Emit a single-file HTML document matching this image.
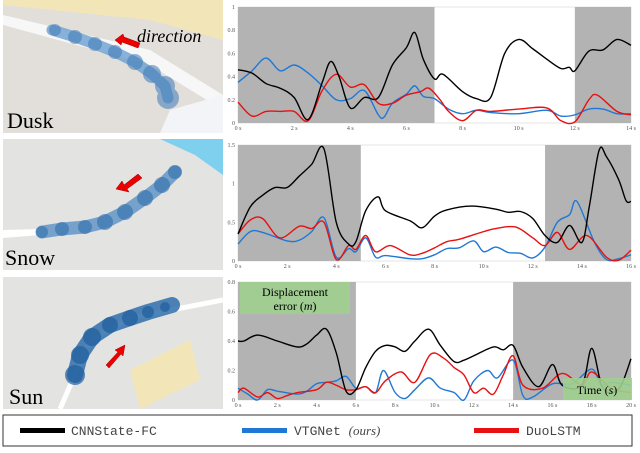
<!DOCTYPE html>
<html><head><meta charset="utf-8"><style>
body{margin:0;width:640px;height:448px;overflow:hidden;background:#fff;font-family:"Liberation Serif",serif}
</style></head><body>
<svg id="s" width="640" height="448" xmlns="http://www.w3.org/2000/svg">
<defs><clipPath id="c1"><rect x="3" y="0" width="220" height="133"/></clipPath>
<clipPath id="c2"><rect x="3" y="139" width="220" height="131"/></clipPath>
<clipPath id="c3"><rect x="3" y="277" width="220" height="132"/></clipPath></defs>
<g clip-path="url(#c1)">
<rect x="3" y="0" width="220" height="133" fill="#e2dfda"/>
<polygon points="3,0 223,0 223,40 150,20 3,5" fill="#f2e6b8"/>
<polygon points="3,15 3,25 150,65 223,110 223,95 150,50" fill="#f7f7f7"/>
<polygon points="170,110 223,95 223,133 160,133" fill="#f2f4f7"/>
<polyline points="52,30 75,37 95,44 115,52 135,62 152,74 165,86 168,98" fill="none" stroke="#6a9fd0" stroke-width="11" stroke-linecap="round" stroke-linejoin="round" opacity="0.8"/>
<g fill="#3f7bb8" opacity="0.55"><circle cx="55" cy="30" r="6"/><circle cx="75" cy="37" r="7"/><circle cx="95" cy="44" r="7"/><circle cx="115" cy="52" r="7"/><circle cx="135" cy="62" r="8"/><circle cx="152" cy="74" r="9"/><circle cx="165" cy="86" r="10"/><circle cx="168" cy="98" r="11"/></g>
<polygon points="115,40 123,34 124,37 140,43 138,48 122,42 121,45" fill="#e00" stroke="#900" stroke-width="0.5"/>
<text x="137" y="42" font-size="18" font-style="italic">direction</text>
<text x="7" y="128" font-size="22">Dusk</text></g>
<g clip-path="url(#c2)">
<rect x="3" y="139" width="220" height="131" fill="#e3e3e1"/>
<polygon points="160,139 223,139 223,175 195,155" fill="#7fd0ee"/>
<polygon points="3,230 3,238 40,235 40,229" fill="#fff"/>
<polyline points="42,232 62,229 85,227 105,222 125,212 145,198 162,185 175,172" fill="none" stroke="#5a90c6" stroke-width="13" stroke-linecap="round" stroke-linejoin="round" opacity="0.8"/>
<g fill="#2f6eaa" opacity="0.6"><circle cx="42" cy="232" r="6"/><circle cx="62" cy="229" r="7"/><circle cx="85" cy="227" r="7"/><circle cx="105" cy="222" r="8"/><circle cx="125" cy="212" r="8"/><circle cx="145" cy="198" r="8"/><circle cx="162" cy="185" r="8"/><circle cx="175" cy="172" r="7"/></g>
<polygon points="116,189 122,181 124,185 138,174 142,178 127,189 129,192" fill="#e00" stroke="#900" stroke-width="0.5"/>
<text x="5" y="265" font-size="22">Snow</text></g>
<g clip-path="url(#c3)">
<rect x="3" y="277" width="220" height="132" fill="#e3e3e1"/>
<polygon points="130,370 190,340 200,380 140,409" fill="#f2e6b8"/>
<polyline points="60,409 90,340 130,318 223,300" fill="none" stroke="#fff" stroke-width="5"/>
<polyline points="75,375 80,355 92,337 110,325 130,318 148,312 172,305" fill="none" stroke="#2f6eaa" stroke-width="16" stroke-linecap="round" stroke-linejoin="round" opacity="0.85"/>
<g fill="#1e5e9e" opacity="0.7"><circle cx="75" cy="375" r="10"/><circle cx="80" cy="355" r="9"/><circle cx="92" cy="337" r="9"/><circle cx="110" cy="325" r="8"/><circle cx="130" cy="318" r="8"/><circle cx="148" cy="312" r="6"/><circle cx="165" cy="307" r="5"/></g>
<polygon points="106,365 118,352 115,350 125,345 123,356 121,354 109,368" fill="#e00" stroke="#900" stroke-width="0.5"/>
<text x="9" y="404" font-size="22">Sun</text></g>
<g id="charts"></g>
<rect x="240" y="282" width="110" height="32" fill="#9fcf8f" opacity="0.9"/>
<text x="295" y="296" font-size="12" text-anchor="middle">Displacement</text>
<text x="295" y="310" font-size="12" text-anchor="middle">error (<tspan font-style="italic">m</tspan>)</text>
<rect x="563" y="378" width="69" height="22" fill="#9fcf8f" opacity="0.9"/>
<text x="597" y="394" font-size="12" text-anchor="middle">Time (<tspan font-style="italic">s</tspan>)</text>
<g>
<rect x="3" y="415" width="629" height="31" fill="#fff" stroke="#333" stroke-width="1"/>
<rect x="20" y="428" width="45" height="5" fill="#000"/>
<text x="71" y="435" font-family="Liberation Mono,monospace" font-size="13" fill="#444">CNNState-FC</text>
<rect x="242" y="428" width="45" height="5" fill="#1f78d6"/>
<text x="294" y="435" font-family="Liberation Mono,monospace" font-size="13" fill="#444">VTGNet <tspan font-family="Liberation Serif,serif" font-style="italic">(ours)</tspan></text>
<rect x="474" y="428" width="45" height="5" fill="#e81010"/>
<text x="526" y="435" font-family="Liberation Mono,monospace" font-size="13" fill="#444">DuoLSTM</text>
</g>
</svg>
<script>
const c1t=[0,.5,1,1.5,2,2.5,3,3.3,3.6,4,4.5,5,5.5,6,6.3,6.6,7,7.3,8,8.5,9,9.5,10,10.5,11,11.5,11.8,12,12.5,13,13.5,14];
const c1k=[.46,.43,.34,.30,.22,.03,.35,.53,.40,.13,.22,.22,.50,.65,.78,.55,.38,.42,.27,.21,.22,.60,.72,.64,.55,.47,.48,.45,.62,.63,.72,.67];
const c1bt=[0,.5,1,1.5,2,2.5,3,3.5,4,4.5,5,5.2,5.5,6,6.3,6.6,7,7.5,8,8.5,9,10,11,11.5,12,12.5,13,13.5,14];
const c1b=[.35,.45,.56,.45,.50,.43,.32,.20,.21,.28,.07,.05,.17,.25,.32,.23,.21,.12,.08,.11,.09,.08,.11,.06,.07,.12,.12,.08,.08];
const c1rt=[0,.5,1,1.5,2,2.5,3,3.5,4,4.5,5,5.5,6,6.5,6.8,7.2,7.5,8,8.5,9,10,11,11.5,12,12.5,12.8,13.5,14];
const c1r=[.18,.06,.10,.10,.10,.02,.28,.42,.31,.33,.17,.17,.24,.27,.30,.20,.10,.02,.11,.10,.12,.13,.02,.01,.20,.24,.10,.07];
const c2kt=[0,.5,1,1.5,2,2.5,3,3.5,4,4.5,4.8,5.2,5.7,6,7,7.5,8,8.5,9.5,10.5,11,11.5,12,12.5,13,13.5,14,14.3,14.7,15,15.5,15.8,16];
const c2k=[.35,.7,.85,.95,.95,1.1,1.25,1.45,.5,.22,.25,.65,.83,.65,.52,.43,.58,.66,.71,.67,.63,.64,.55,.33,.24,.46,.24,.7,1.43,1.35,1.05,.78,.77];
const c2bt=[0,.5,1,2,2.5,3,3.5,4,4.5,4.8,5.2,5.6,6,7,7.5,8,8.5,9,9.6,10,10.5,11,11.5,12,12.5,13,13.5,13.8,14.5,15,15.5,16];
const c2b=[.22,.38,.37,.26,.27,.38,.56,.05,.16,.12,.30,.05,.07,.03,.03,.08,.16,.17,.26,.12,.18,.11,.10,.04,.18,.50,.60,.77,.25,.02,.03,.08];
const c2rt=[0,.5,1,1.7,2.5,3,3.5,4,4.5,4.8,5.2,5.6,6.2,7,7.5,8,8.5,9,10,10.5,11.3,12,12.5,13,13.5,14.2,15,15.5,16];
const c2r=[.35,.53,.55,.30,.45,.42,.50,.02,.20,.15,.33,.12,.20,.08,.10,.17,.25,.28,.38,.42,.44,.30,.20,.37,.15,.33,.05,.01,.14];
const c3kt=[0,.3,1,2,3,3.5,4,4.5,5,5.5,6,6.5,7,7.5,8,8.5,9,9.7,10.3,11,11.5,12,13,13.5,14,14.5,15.3,16,16.5,17.5,18,18.5,19,19.5,20];
const c3k=[.40,.40,.44,.40,.36,.38,.44,.48,.32,.06,.07,.22,.33,.37,.36,.33,.40,.48,.37,.26,.27,.30,.36,.34,.37,.22,.09,.24,.10,.10,.35,.10,.05,.10,.28];
const c3bt=[0,.5,1,1.5,2,3,3.5,4,4.5,5,5.5,6,6.5,7,7.4,8,8.5,9,9.7,10.3,11,11.5,12,12.7,13.2,14,14.5,15,16,17,18,18.5,19,20];
const c3b=[.08,.04,0,.07,.06,.04,.06,.11,.12,.13,.16,.08,.09,.05,.20,.05,.01,.07,.15,.08,.05,0,.13,.20,.15,.27,.03,.02,.11,.11,.21,.10,.12,.10];
const c3rt=[0,.3,1,1.5,2,2.5,3,4,4.5,5,5.5,6,6.5,7,7.5,8.3,9,9.8,10.5,11,11.5,12,12.5,13,13.5,14,14.5,15.5,16.5,17.5,18,19,20];
const c3r=[.05,.08,.02,.05,.01,.03,.05,.07,.12,.10,.07,.07,.09,.05,.13,.19,.12,.31,.28,.22,.17,.05,.08,.04,.17,.30,.10,.08,.18,.10,.19,.08,.05];
const c1ticks=[0,.2,.4,.6,.8,1], c2ticks=[0,.5,1,1.5], c3ticks=[0,.2,.4,.6,.8];
const charts=[
 {top:7,bot:123,tmax:14,ymax:1,xstep:2,yt:c1ticks,yl:['0','0.2','0.4','0.6','0.8','1'],shade:[[0,7],[12,14]],s:[[c1bt,c1b],[c1rt,c1r],[c1t,c1k]]},
 {top:145,bot:261,tmax:16,ymax:1.5,xstep:2,yt:c2ticks,yl:['0','0.5','1','1.5'],shade:[[0,5],[12.5,16]],s:[[c2bt,c2b],[c2rt,c2r],[c2kt,c2k]]},
 {top:282,bot:400,tmax:20,ymax:.8,xstep:2,yt:c3ticks,yl:['0','0.2','0.4','0.6','0.8'],shade:[[0,6],[14,20]],s:[[c3bt,c3b],[c3rt,c3r],[c3kt,c3k]]}];
const cols=['#1f78d6','#e81010','#000'];const names=['vtgnet','duolstm','cnnstate'];
const NS='http://www.w3.org/2000/svg';const G=document.getElementById('charts');
function mk(t,a,p){const e=document.createElementNS(NS,t);for(const k in a)e.setAttribute(k,a[k]);(p||G).appendChild(e);return e;}
const X0=238,X1=631;
charts.forEach((c,i)=>{
 const g=mk('g',{});
 
 
 const xs=t=>X0+t/c.tmax*(X1-X0), ys=v=>c.bot-v/c.ymax*(c.bot-c.top);
 const bg=mk('rect',{x:X0,y:c.top,width:X1-X0,height:c.bot-c.top,fill:'#fff',stroke:'#ccc','stroke-width':0.5},g);
 
 c.shade.forEach(s=>{const r=mk('rect',{x:xs(s[0]),y:c.top,width:xs(s[1])-xs(s[0]),height:c.bot-c.top,fill:'#b3b3b3'},g);
  });
 c.yt.forEach((v,j)=>{const t=mk('text',{x:235,y:ys(v)+2,'font-size':6,'text-anchor':'end',fill:'#555'},g);t.textContent=c.yl[j];
  });
 for(let t=0;t<=c.tmax;t+=c.xstep){const e=mk('text',{x:xs(t),y:c.bot+7,'font-size':6,'text-anchor':'middle',fill:'#555'},g);e.textContent=t+' s';
  }
 c.s.forEach((s,k)=>{const P=s[0].map((t,j)=>[xs(t),ys(s[1][j])]);let d='M'+P[0][0]+','+P[0][1];
  for(let j=0;j<P.length-1;j++){const p0=P[Math.max(j-1,0)],p1=P[j],p2=P[j+1],p3=P[Math.min(j+2,P.length-1)];
   d+=' C'+(p1[0]+(p2[0]-p0[0])/6)+','+(p1[1]+(p2[1]-p0[1])/6)+' '+(p2[0]-(p3[0]-p1[0])/6)+','+(p2[1]-(p3[1]-p1[1])/6)+' '+p2[0]+','+p2[1];}
  const l=mk('path',{d:d,fill:'none',stroke:cols[k],'stroke-width':1.4},g);
  });
});
</script>
</body></html>
